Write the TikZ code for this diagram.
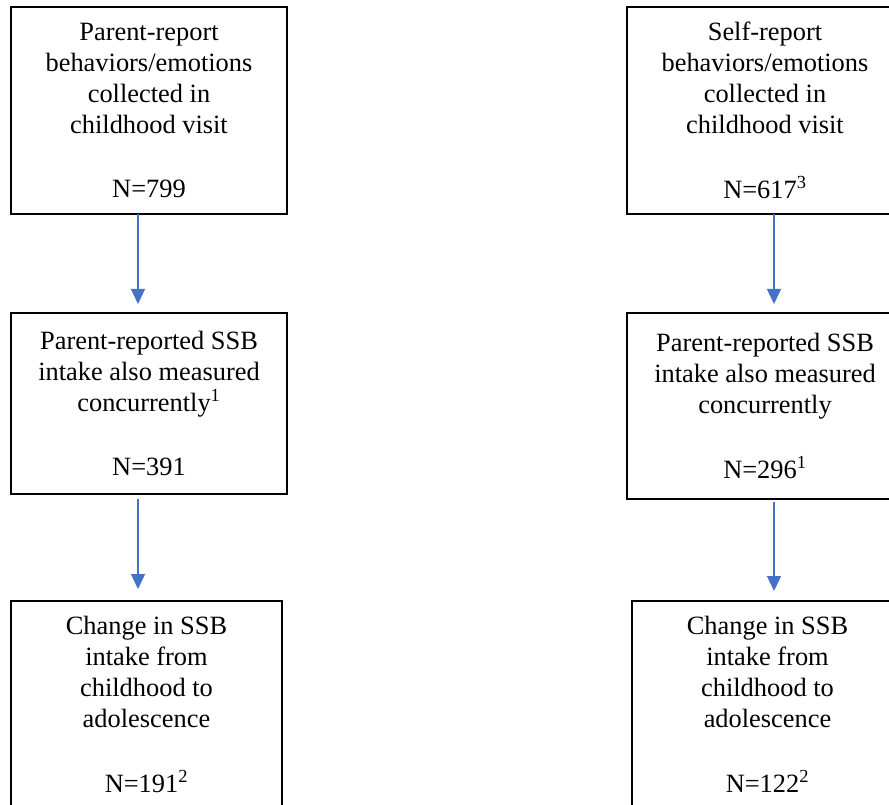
\documentclass[tikz,border=0pt]{standalone}
\usepackage{fontspec}
\setmainfont{Liberation Serif}
\usetikzlibrary{positioning,arrows.meta}
\definecolor{arrowblue}{HTML}{4472C4}

\begin{document}
\begin{tikzpicture}[font=\fontsize{19.8pt}{23.25pt}\selectfont]
    \tikzstyle{box}=[draw, line width=1.5pt, align=center, inner sep=0pt, outer sep=0pt, minimum width=207pt, minimum height=155.25pt, execute at begin node=\rule{0pt}{19pt}]
    \tikzstyle{mid}=[minimum height=135.75pt]
    \tikzstyle{low}=[minimum width=203.25pt]
    \tikzstyle{link}=[draw=arrowblue, line width=1pt, -{Triangle[width=10.5pt,length=11.25pt]}]
    \clip (0,0) rectangle (666.75pt,-603.75pt);

    % Parent report
    \node[box,anchor=north west] (parentbeh) at (8.25pt,-5.25pt) {Parent-report\\behaviors/emotions\\collected in\\childhood visit\\[25pt]N=799};
    \node[box,mid,below=74.25pt of parentbeh] (parentssb) {Parent-reported SSB\\intake also measured\\concurrently\textsuperscript{1}\\[25pt]N=391};
    \node[box,low,below=80.25pt of parentssb,xshift=-1.875pt] (parentchange) {Change in SSB\\intake from\\childhood to\\adolescence\\[25pt]N=191\textsuperscript{2}};

    % Self report
    \node[box,right=255pt of parentbeh] (selfbeh) {Self-report\\behaviors/emotions\\collected in\\childhood visit\\[25pt]N=617\textsuperscript{3}};
    \node[box,mid,minimum height=139.5pt,below=74.25pt of selfbeh] (selfssb) {Parent-reported SSB\\intake also measured\\concurrently\\[25pt]N=296\textsuperscript{1}};
    \node[box,low,below=76.5pt of selfssb,xshift=1.875pt] (selfchange) {Change in SSB\\intake from\\childhood to\\adolescence\\[25pt]N=122\textsuperscript{2}};

    \draw[link,shorten >=6.75pt] ([xshift=-8.25pt]parentbeh.south) -- ([xshift=-8.25pt]parentssb.north);
    \draw[link,shorten <=3.75pt,shorten >=9pt] ([xshift=-8.25pt]parentssb.south) -- ([xshift=-6.375pt]parentchange.north);

    \draw[link,shorten >=6.75pt] ([xshift=6.75pt]selfbeh.south) -- ([xshift=6.75pt]selfssb.north);
    \draw[link,shorten <=2.25pt,shorten >=7.5pt] ([xshift=6.75pt]selfssb.south) -- ([xshift=4.875pt]selfchange.north);
\end{tikzpicture}
\end{document}
